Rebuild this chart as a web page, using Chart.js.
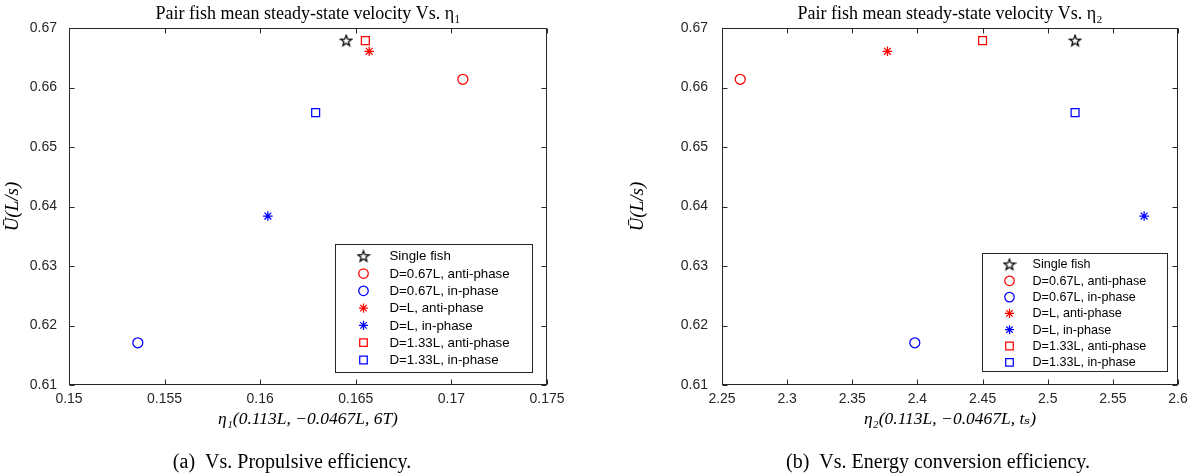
<!DOCTYPE html>
<html>
<head>
<meta charset="utf-8">
<script src="https://cdn.jsdelivr.net/npm/chart.js@4.4.1/dist/chart.umd.min.js"></script>
<style>
  body { margin: 0; background: #fff; width: 1194px; height: 474px; overflow: hidden; position: relative; }
  .pane { position: absolute; top: 0; width: 597px; height: 474px; }
  .cap { position: absolute; top: 451px; font-family: "Liberation Serif", serif; font-size: 20px; line-height: 1;
         color: #000; transform: translateX(-50%); white-space: nowrap; }
</style>
</head>
<body>
<div class="pane" style="left:0"><canvas id="chartA" width="597" height="474"></canvas></div>
<div class="pane" style="left:597px"><canvas id="chartB" width="597" height="474"></canvas></div>
<div class="cap" style="left:292px">(a)&nbsp;&nbsp;Vs. Propulsive efficiency.</div>
<div class="cap" style="left:938px">(b)&nbsp;&nbsp;Vs. Energy conversion efficiency.</div>

<script>
// series, same order in both panels
const seriesLabels = ['Single fish', 'D=0.67L, anti-phase', 'D=0.67L, in-phase', 'D=L, anti-phase',
                      'D=L, in-phase', 'D=1.33L, anti-phase', 'D=1.33L, in-phase'];
const velocity = [0.6679, 0.6614, 0.6171, 0.6661, 0.6384, 0.6679, 0.6558];
const eta1 = [0.1645, 0.1706, 0.1536, 0.1657, 0.1604, 0.1655, 0.1629];
const eta2 = [2.521, 2.264, 2.398, 2.377, 2.574, 2.450, 2.521];

const markerColors = ['#000000', '#ff0000', '#0000ff', '#ff0000', '#0000ff', '#ff0000', '#0000ff'];
const markerShapes = ['pentagram', 'circle', 'circle', 'star', 'star', 'rect', 'rect'];

const yTicks = [0.61, 0.62, 0.63, 0.64, 0.65, 0.66, 0.67];
const yTickLabels = ['0.61', '0.62', '0.63', '0.64', '0.65', '0.66', '0.67'];
const xTicksA = [0.15, 0.155, 0.16, 0.165, 0.17, 0.175];
const xTickLabelsA = ['0.15', '0.155', '0.16', '0.165', '0.17', '0.175'];
const xTicksB = [2.25, 2.3, 2.35, 2.4, 2.45, 2.5, 2.55, 2.6];
const xTickLabelsB = ['2.25', '2.3', '2.35', '2.4', '2.45', '2.5', '2.55', '2.6'];

const AXIS_COLOR = '#262626';
const SERIF = "'Liberation Serif', 'DejaVu Serif', serif";
const SANS = "'Liberation Sans', Arial, sans-serif";

// matlab style pentagram, outline only
function makePentagram(color) {
    const c = document.createElement('canvas');
    c.width = 14; c.height = 14;
    const g = c.getContext('2d');
    g.strokeStyle = color;
    g.lineWidth = 1.25;
    g.beginPath();
    for (let k = 0; k < 10; k++) {
        const r = k % 2 === 0 ? 5.8 : 2.4;
        const a = -Math.PI / 2 + k * Math.PI / 5;
        const px = 7 + r * Math.cos(a), py = 7.4 + r * Math.sin(a);
        k === 0 ? g.moveTo(px, py) : g.lineTo(px, py);
    }
    g.closePath();
    g.stroke();
    return c;
}
const pentagram = makePentagram('#000000');

function styleFor(i) {
    return markerShapes[i] === 'pentagram' ? pentagram : markerShapes[i];
}
function radiusFor(i) {
    return { pentagram: 6, circle: 5, star: 4.8, rect: 5.6 }[markerShapes[i]];
}

// box, inward ticks on all 4 sides, and the boxed legend inside the axes
const framePlugin = {
    id: 'frame',
    afterDatasetsDraw(chart, args, opts) {
        const { ctx, chartArea: a, scales: { x, y } } = chart;
        ctx.save();
        ctx.strokeStyle = AXIS_COLOR;
        ctx.lineWidth = 1;
        const L = Math.round(a.left) + 0.5, R = Math.round(a.right) - 0.5;
        const T = Math.round(a.top) + 0.5, B = Math.round(a.bottom) - 0.5;
        ctx.strokeRect(L, T, R - L, B - T);
        ctx.beginPath();
        x.ticks.forEach(t => {
            const px = Math.round(x.getPixelForValue(t.value)) + 0.5;
            ctx.moveTo(px, B); ctx.lineTo(px, B - 5);
            ctx.moveTo(px, T); ctx.lineTo(px, T + 5);
        });
        y.ticks.forEach(t => {
            const py = Math.round(y.getPixelForValue(t.value)) + 0.5;
            ctx.moveTo(L, py); ctx.lineTo(L + 5, py);
            ctx.moveTo(R, py); ctx.lineTo(R - 5, py);
        });
        ctx.stroke();

        // legend
        const bw = opts.w, bh = opts.h;
        const bx = Math.round(a.right - opts.gapR - bw) + 0.5;
        const by = Math.round(a.bottom - opts.gapB - bh) + 0.5;
        ctx.fillStyle = '#ffffff';
        ctx.fillRect(bx, by, bw, bh);
        ctx.strokeStyle = AXIS_COLOR;
        ctx.strokeRect(bx, by, bw, bh);
        ctx.font = opts.fontSize + 'px ' + SANS;
        ctx.textBaseline = 'middle';
        ctx.textAlign = 'left';
        chart.data.datasets.forEach((ds, i) => {
            const cy = by + opts.row0 + i * opts.rowH;
            const cx = bx + opts.markX;
            ctx.strokeStyle = ds.borderColor;
            ctx.fillStyle = 'rgba(0,0,0,0)';
            ctx.lineWidth = ds.pointBorderWidth;
            Chart.helpers.drawPoint(ctx, {
                pointStyle: ds.pointStyle, radius: ds.pointRadius * 0.95,
                borderWidth: ds.pointBorderWidth, rotation: 0
            }, cx, cy);
            ctx.fillStyle = '#000';
            ctx.fillText(ds.label, bx + opts.textX, cy + 0.5);
        });
        ctx.restore();
    }
};

function buildChart(canvasId, xs, xTicks, xLabels, cfg) {
    const datasets = seriesLabels.map((lab, i) => ({
        label: lab,
        data: [{ x: xs[i], y: velocity[i] }],
        pointStyle: styleFor(i),
        pointRadius: radiusFor(i),
        pointBorderWidth: 1.25,
        borderColor: markerColors[i],
        backgroundColor: 'rgba(0,0,0,0)',
        showLine: false
    }));

    new Chart(document.getElementById(canvasId), {
        type: 'scatter',
        data: { datasets },
        options: {
            responsive: false,
            animation: false,
            events: [],
            layout: { padding: { left: 0, right: cfg.padR, top: 0, bottom: 39 } },
            plugins: {
                legend: { display: false },
                tooltip: { enabled: false },
                title: {
                    display: true, fullSize: false, text: cfg.title, color: '#000',
                    font: { family: SERIF, size: 18, weight: 'normal' },
                    padding: { top: 3, bottom: 3.5 }
                },
                frame: cfg.legend
            },
            scales: {
                x: {
                    type: 'linear', min: xTicks[0], max: xTicks[xTicks.length - 1],
                    afterBuildTicks: s => { s.ticks = xTicks.map(v => ({ value: v })); },
                    afterFit: s => { s.height = 50; },
                    ticks: {
                        callback: (v, i) => xLabels[i], color: AXIS_COLOR, padding: 6,
                        font: { family: SANS, size: 14 }, maxRotation: 0, autoSkip: false
                    },
                    grid: { display: false, drawTicks: false },
                    border: { display: false },
                    title: {
                        display: true, text: cfg.xTitle, color: '#000',
                        font: { family: SERIF, size: 17.5, style: 'italic' },
                        padding: { top: 0, bottom: 5 }
                    }
                },
                y: {
                    type: 'linear', min: yTicks[0], max: yTicks[yTicks.length - 1],
                    afterBuildTicks: s => { s.ticks = yTicks.map(v => ({ value: v })); },
                    afterFit: s => { s.width = cfg.yWidth; },
                    ticks: {
                        callback: (v, i) => yTickLabels[i], color: AXIS_COLOR, padding: cfg.yTickPad,
                        font: { family: SANS, size: 14 }, autoSkip: false
                    },
                    grid: { display: false, drawTicks: false },
                    border: { display: false },
                    title: {
                        display: true, text: 'Ū(L/s)', color: '#000',
                        font: { family: SERIF, size: 19, style: 'italic' },
                        padding: { top: cfg.yTitlePad, bottom: 0 }
                    }
                }
            }
        },
        plugins: [framePlugin]
    });
}

buildChart('chartA', eta1, xTicksA, xTickLabelsA, {
    title: 'Pair fish mean steady-state velocity Vs. η₁',
    xTitle: 'η₁(0.113L, −0.0467L, 6T)',
    padR: 50, yWidth: 69, yTitlePad: 1.5, yTickPad: 12,
    legend: { w: 197, h: 128, gapR: 15, gapB: 13, row0: 11.7, rowH: 17.3, markX: 28, textX: 54, fontSize: 13.3 }
});

buildChart('chartB', eta2, xTicksB, xTickLabelsB, {
    title: 'Pair fish mean steady-state velocity Vs. η₂',
    xTitle: 'η₂(0.113L, −0.0467L, tₛ)',
    padR: 16, yWidth: 125, yTitlePad: 30, yTickPad: 14,
    legend: { w: 185, h: 118, gapR: 11, gapB: 14, row0: 11, rowH: 16.3, markX: 27, textX: 50, fontSize: 12.6 }
});
</script>
</body>
</html>
